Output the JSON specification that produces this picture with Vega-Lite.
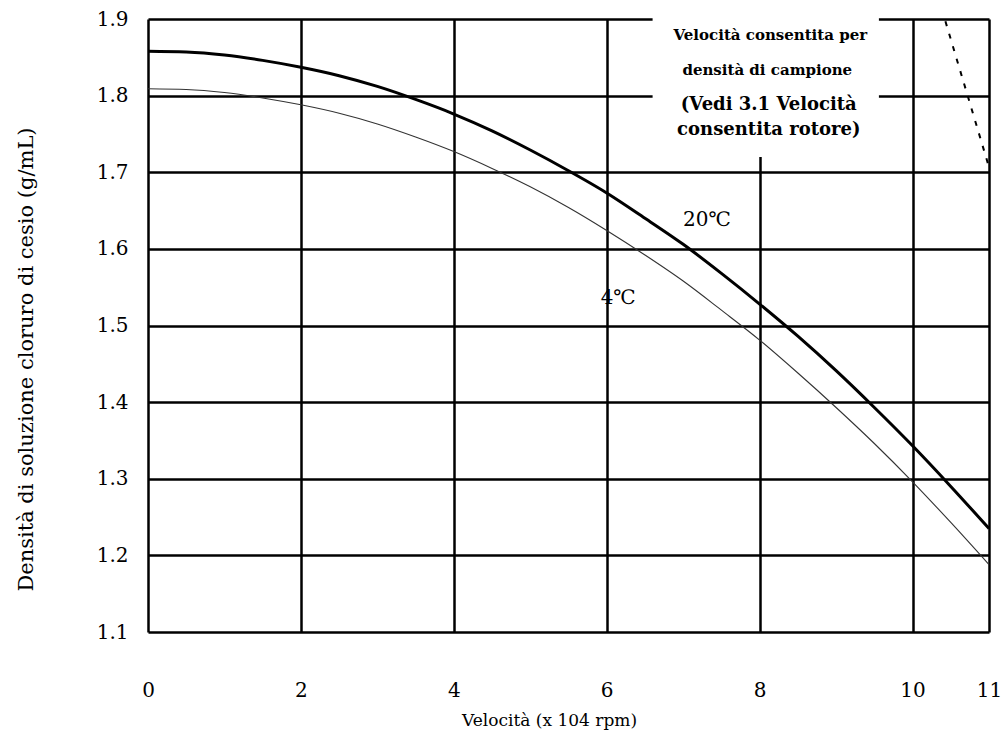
{
  "$schema": "https://vega.github.io/schema/vega-lite/v6.json",
  "width": 841,
  "height": 613,
  "autosize": "none",
  "padding": {"left": 148, "top": 19, "right": 17, "bottom": 113},
  "background": "white",
  "config": {
    "view": {"stroke": null},
    "font": "DejaVu Serif",
    "axis": {
      "grid": true,
      "gridColor": "black",
      "gridWidth": 2.5,
      "gridOpacity": 1,
      "domain": false,
      "ticks": false,
      "labelFlush": false,
      "labelOverlap": false,
      "labelFont": "DejaVu Serif",
      "labelFontSize": 20,
      "labelColor": "black",
      "titleFont": "DejaVu Serif",
      "titleFontWeight": "normal",
      "titleColor": "black"
    }
  },
  "datasets": {
    "curves": [
      {"v": 0, "d": 1.858, "t": "20℃"},
      {"v": 0.5, "d": 1.857, "t": "20℃"},
      {"v": 1, "d": 1.853, "t": "20℃"},
      {"v": 1.5, "d": 1.846, "t": "20℃"},
      {"v": 2, "d": 1.837, "t": "20℃"},
      {"v": 2.5, "d": 1.826, "t": "20℃"},
      {"v": 3, "d": 1.812, "t": "20℃"},
      {"v": 3.5, "d": 1.795, "t": "20℃"},
      {"v": 4, "d": 1.776, "t": "20℃"},
      {"v": 4.5, "d": 1.754, "t": "20℃"},
      {"v": 5, "d": 1.729, "t": "20℃"},
      {"v": 5.5, "d": 1.702, "t": "20℃"},
      {"v": 6, "d": 1.673, "t": "20℃"},
      {"v": 6.5, "d": 1.640, "t": "20℃"},
      {"v": 7, "d": 1.606, "t": "20℃"},
      {"v": 7.5, "d": 1.568, "t": "20℃"},
      {"v": 8, "d": 1.528, "t": "20℃"},
      {"v": 8.5, "d": 1.486, "t": "20℃"},
      {"v": 9, "d": 1.441, "t": "20℃"},
      {"v": 9.5, "d": 1.393, "t": "20℃"},
      {"v": 10, "d": 1.343, "t": "20℃"},
      {"v": 10.5, "d": 1.290, "t": "20℃"},
      {"v": 11, "d": 1.235, "t": "20℃"},
      {"v": 0, "d": 1.809, "t": "4℃"},
      {"v": 0.5, "d": 1.808, "t": "4℃"},
      {"v": 1, "d": 1.804, "t": "4℃"},
      {"v": 1.5, "d": 1.797, "t": "4℃"},
      {"v": 2, "d": 1.788, "t": "4℃"},
      {"v": 2.5, "d": 1.777, "t": "4℃"},
      {"v": 3, "d": 1.763, "t": "4℃"},
      {"v": 3.5, "d": 1.746, "t": "4℃"},
      {"v": 4, "d": 1.727, "t": "4℃"},
      {"v": 4.5, "d": 1.705, "t": "4℃"},
      {"v": 5, "d": 1.681, "t": "4℃"},
      {"v": 5.5, "d": 1.654, "t": "4℃"},
      {"v": 6, "d": 1.624, "t": "4℃"},
      {"v": 6.5, "d": 1.592, "t": "4℃"},
      {"v": 7, "d": 1.558, "t": "4℃"},
      {"v": 7.5, "d": 1.520, "t": "4℃"},
      {"v": 8, "d": 1.481, "t": "4℃"},
      {"v": 8.5, "d": 1.438, "t": "4℃"},
      {"v": 9, "d": 1.393, "t": "4℃"},
      {"v": 9.5, "d": 1.346, "t": "4℃"},
      {"v": 10, "d": 1.296, "t": "4℃"},
      {"v": 10.5, "d": 1.243, "t": "4℃"},
      {"v": 11, "d": 1.188, "t": "4℃"}
    ],
    "limit": [
      {"v": 10.43, "d": 1.897},
      {"v": 10.99, "d": 1.71}
    ],
    "box": [
      {"v1": 6.6, "v2": 9.56, "d1": 1.72, "d2": 1.906}
    ],
    "note_small": [
      {"v": 8.14, "d": 1.879, "txt": "Velocità consentita per"},
      {"v": 8.1, "d": 1.8335, "txt": "densità di campione"}
    ],
    "note_big": [
      {"v": 8.12, "d": 1.788, "txt": "(Vedi 3.1 Velocità"},
      {"v": 8.12, "d": 1.755, "txt": "consentita rotore)"}
    ],
    "curve_labels": [
      {"v": 7.31, "d": 1.638, "txt": "20℃"},
      {"v": 6.15, "d": 1.536, "txt": "4℃"}
    ]
  },
  "layer": [
    {
      "data": {"name": "curves"},
      "transform": [{"filter": "datum.t === '4℃'"}],
      "mark": {"type": "line", "color": "#333333", "strokeWidth": 1.1, "interpolate": "monotone"},
      "encoding": {
        "x": {
          "field": "v", "type": "quantitative",
          "scale": {"domain": [0, 11], "nice": false, "zero": false},
          "axis": {
            "values": [0, 2, 4, 6, 8, 10, 11],
            "format": "d",
            "labelPadding": 48,
            "title": "Velocità (x 104 rpm)",
            "titleFontSize": 17,
            "titlePadding": 12,
            "titleX": 401
          }
        },
        "y": {
          "field": "d", "type": "quantitative",
          "scale": {"domain": [1.1, 1.9], "nice": false, "zero": false},
          "axis": {
            "values": [1.1, 1.2, 1.3, 1.4, 1.5, 1.6, 1.7, 1.8, 1.9],
            "format": ".1f",
            "labelPadding": 20,
            "title": "Densità di soluzione cloruro di cesio (g/mL)",
            "titleFontSize": 21,
            "titlePadding": 60,
            "titleY": 340
          }
        }
      }
    },
    {
      "data": {"name": "curves"},
      "transform": [{"filter": "datum.t === '20℃'"}],
      "mark": {"type": "line", "color": "black", "strokeWidth": 3, "interpolate": "monotone"},
      "encoding": {
        "x": {"field": "v", "type": "quantitative"},
        "y": {"field": "d", "type": "quantitative"}
      }
    },
    {
      "data": {"name": "box"},
      "mark": {"type": "rect", "fill": "white"},
      "encoding": {
        "x": {"field": "v1", "type": "quantitative"},
        "x2": {"field": "v2"},
        "y": {"field": "d1", "type": "quantitative"},
        "y2": {"field": "d2"}
      }
    },
    {
      "data": {"name": "limit"},
      "mark": {"type": "line", "color": "black", "strokeWidth": 2, "strokeDash": [5, 8]},
      "encoding": {
        "x": {"field": "v", "type": "quantitative"},
        "y": {"field": "d", "type": "quantitative"}
      }
    },
    {
      "data": {"name": "note_small"},
      "mark": {"type": "text", "font": "DejaVu Serif", "fontSize": 15, "fontWeight": "bold", "color": "black", "align": "center", "baseline": "middle"},
      "encoding": {
        "x": {"field": "v", "type": "quantitative"},
        "y": {"field": "d", "type": "quantitative"},
        "text": {"field": "txt"}
      }
    },
    {
      "data": {"name": "note_big"},
      "mark": {"type": "text", "font": "DejaVu Serif", "fontSize": 18, "fontWeight": "bold", "color": "black", "align": "center", "baseline": "middle"},
      "encoding": {
        "x": {"field": "v", "type": "quantitative"},
        "y": {"field": "d", "type": "quantitative"},
        "text": {"field": "txt"}
      }
    },
    {
      "data": {"name": "curve_labels"},
      "mark": {"type": "text", "font": "DejaVu Serif", "fontSize": 20, "color": "black", "align": "center", "baseline": "middle"},
      "encoding": {
        "x": {"field": "v", "type": "quantitative"},
        "y": {"field": "d", "type": "quantitative"},
        "text": {"field": "txt"}
      }
    }
  ]
}
